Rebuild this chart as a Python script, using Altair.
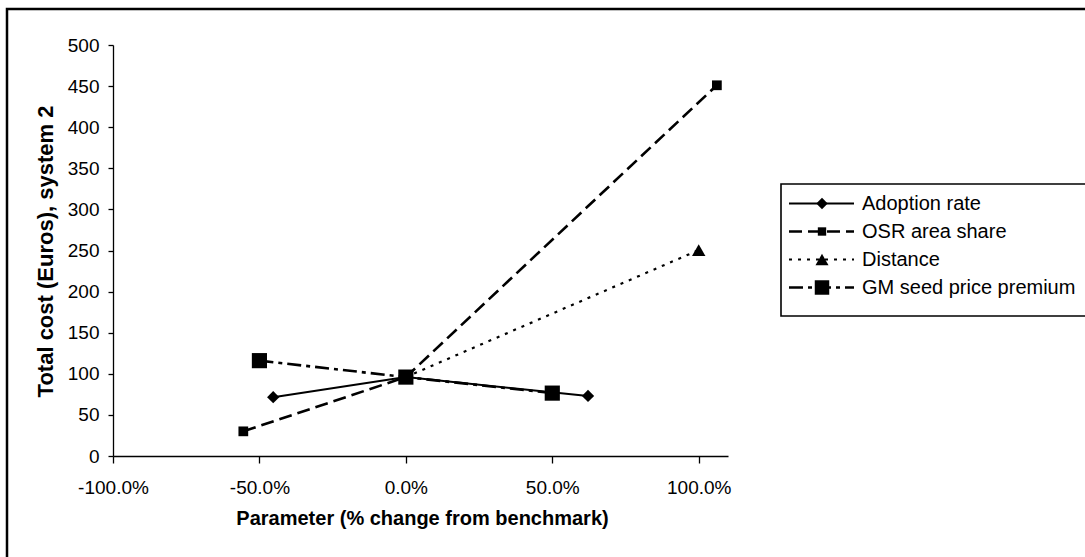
import altair as alt
import pandas as pd

# ---- data ----
series_names = ["Adoption rate", "OSR area share", "Distance", "GM seed price premium"]

adoption_x = [-45.3, 0.0, 62.2]
adoption_y = [71.5, 96, 73]

osr_x = [-55.5, 0.0, 106.2]
osr_y = [30, 96, 451]

distance_x = [0.0, 100.0]
distance_y = [96, 250.5]

gm_x = [-50.0, 0.0, 50.0]
gm_y = [116, 96, 76.5]

x_ticks = [-100, -50, 0, 50, 100]
y_ticks = [0, 50, 100, 150, 200, 250, 300, 350, 400, 450, 500]

FONT = "Liberation Sans"
TICK_FS = 19
LEG_FS = 20

def frame(name, xs, ys):
    return pd.DataFrame({"series": name, "pct": xs, "cost": ys})

x_enc = alt.X(
    "pct:Q",
    scale=alt.Scale(domain=[-100, 110], nice=False, zero=False),
    axis=alt.Axis(
        values=x_ticks,
        labelExpr="(datum.value < 0 ? '-' : '') + format(abs(datum.value), '.1f') + '%'",
        title="Parameter (% change from benchmark)",
        titleFont=FONT, titleFontSize=20, titleFontWeight="bold", titleColor="black",
        titleX=309, titleY=62, titleBaseline="middle", titleAlign="center",
        labelFont=FONT, labelFontSize=TICK_FS, labelColor="black", labelPadding=15,
        labelFlush=False, labelOverlap=False,
        domainColor="black", domainWidth=1.3, tickColor="black", tickSize=7, tickWidth=1.3,
        grid=False,
    ),
)
y_enc = alt.Y(
    "cost:Q",
    scale=alt.Scale(domain=[0, 500], nice=False, zero=True),
    axis=alt.Axis(
        values=y_ticks,
        title="Total cost (Euros), system 2",
        titleFont=FONT, titleFontSize=22, titleFontWeight="bold", titleColor="black",
        titleX=-68, titleY=206, titleAngle=270, titleBaseline="middle", titleAlign="center",
        labelFont=FONT, labelFontSize=TICK_FS, labelColor="black", labelPadding=9,
        labelOverlap=False, labelFlush=False,
        domainColor="black", domainWidth=1.3, tickColor="black", tickSize=5, tickWidth=1.3,
        grid=False,
    ),
)

# (x, y, name, dash, stroke width, shape, size)
specs = [
    (adoption_x, adoption_y, series_names[0], [1, 0], 2.0, "diamond", 150),
    (osr_x, osr_y, series_names[1], [13, 6], 2.6, "square", 95),
    (distance_x, distance_y, series_names[2], [3, 6], 2.2, "triangle-up", 180),
    (gm_x, gm_y, series_names[3], [14, 5, 4, 5], 2.6, "square", 230),
]

layers = []
for xs, ys, name, dash, sw, shape, size in specs:
    df = frame(name, xs, ys)
    line_kw = dict(color="black", strokeWidth=sw)
    if dash != [1, 0]:
        line_kw["strokeDash"] = dash
    layers.append(alt.Chart(df).mark_line(**line_kw).encode(x=x_enc, y=y_enc))
for xs, ys, name, dash, sw, shape, size in specs:
    df = frame(name, xs, ys)
    layers.append(
        alt.Chart(df).mark_point(filled=True, color="black", opacity=1, shape=shape, size=size)
        .encode(x=x_enc, y=y_enc)
    )

blank = alt.Data(values=[{"a": 1}])

# chart border (extends past right/bottom edge like the reference)
border = alt.Chart(blank).mark_rect(fill="transparent", stroke="black", strokeWidth=2.5).encode(
    x=alt.value(-106), x2=alt.value(980), y=alt.value(-36), y2=alt.value(520)
)

# legend box
legend_box = alt.Chart(blank).mark_rect(fill="white", stroke="black", strokeWidth=1.6).encode(
    x=alt.value(668), x2=alt.value(980), y=alt.value(139), y2=alt.value(271)
)

legend_layers = [legend_box]
row_y = [158.5, 186.5, 214.5, 242.5]
leg_sizes = [130, 70, 170, 210]
for (xs, ys, name, dash, sw, shape, size), ry, ls in zip(specs, row_y, leg_sizes):
    rule_kw = dict(color="black", strokeWidth=sw)
    if dash != [1, 0]:
        rule_kw["strokeDash"] = dash
    legend_layers.append(
        alt.Chart(blank).mark_rule(**rule_kw).encode(
            x=alt.value(676), x2=alt.value(741), y=alt.value(ry)
        )
    )
    legend_layers.append(
        alt.Chart(blank).mark_point(filled=True, color="black", opacity=1, shape=shape, size=ls)
        .encode(x=alt.value(709), y=alt.value(ry))
    )
    legend_layers.append(
        alt.Chart(blank).mark_text(align="left", baseline="middle", font=FONT, fontSize=LEG_FS,
                                   color="black")
        .encode(x=alt.value(749), y=alt.value(ry), text=alt.value(name))
    )

chart = alt.layer(border, *layers, *legend_layers).properties(
    width=615,
    height=411,
    autosize=alt.AutoSizeParams(type="none"),
    padding={"left": 113, "top": 45, "right": 357, "bottom": 101},
    background="white",
).configure_view(strokeWidth=0)

chart.save("out.html", embed_options={"renderer": "svg", "actions": False})
